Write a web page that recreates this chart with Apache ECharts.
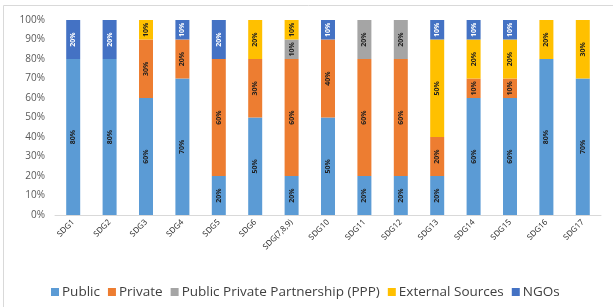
<!DOCTYPE html>
<html>
<head>
<meta charset="utf-8">
<script src="https://cdn.jsdelivr.net/npm/echarts@6/dist/echarts.min.js"></script>
<style>
  html, body { margin: 0; padding: 0; background: #fff; }
  #main { width: 613px; height: 307px; }
</style>
</head>
<body>
<div id="main"></div>
<script>
// categories and values (percent)
const categories = ['SDG1', 'SDG2', 'SDG3', 'SDG4', 'SDG5', 'SDG6', 'SDG(7,8,9)', 'SDG10', 'SDG11', 'SDG12', 'SDG13', 'SDG14', 'SDG15', 'SDG16', 'SDG17'];
const publicVals   = [80, 80, 60, 70, 20, 50, 20, 50, 20, 20, 20, 60, 60, 80, 70];
const privateVals  = [0, 0, 30, 20, 60, 30, 60, 40, 60, 60, 20, 10, 10, 0, 0];
const pppVals      = [0, 0, 0, 0, 0, 0, 10, 0, 20, 20, 0, 0, 0, 0, 0];
const externalVals = [0, 0, 10, 0, 0, 20, 10, 0, 0, 0, 50, 20, 20, 20, 30];
const ngoVals      = [20, 20, 0, 10, 20, 0, 0, 10, 0, 0, 10, 10, 10, 0, 0];
const yTicks = [0, 10, 20, 30, 40, 50, 60, 70, 80, 90, 100];

const seriesDefs = [
    { name: 'Public', data: publicVals, color: '#5B9BD5', txt: '#1f1f1f' },
    { name: 'Private', data: privateVals, color: '#ED7D31', txt: '#1f1f1f' },
    { name: 'Public Private Partnership (PPP)', data: pppVals, color: '#A5A5A5', txt: '#1f1f1f' },
    { name: 'External Sources', data: externalVals, color: '#FFC000', txt: '#1f1f1f' },
    { name: 'NGOs', data: ngoVals, color: '#4472C4', txt: '#ffffff' }
];

let myChart = echarts.init(document.getElementById('main'));

myChart.setOption({
    animation: false,
    textStyle: { fontFamily: 'Open Sans' },
    graphic: [{
        type: 'rect',
        shape: { x: 3.5, y: 5.5, width: 640, height: 320 },
        style: { fill: 'none', stroke: '#d9d9d9', lineWidth: 1 },
        silent: true
    }],
    grid: { left: 55, right: 12, top: 20, bottom: 92 },
    legend: {
        top: 280,
        left: 46,
        itemWidth: 8,
        itemHeight: 8,
        itemGap: 8,
        icon: 'rect',
        textStyle: { fontSize: 13.5, color: '#404040', padding: [0, 0, 0, -2] },
        data: seriesDefs.map(s => s.name)
    },
    xAxis: {
        type: 'category',
        data: categories,
        axisLine: { lineStyle: { color: '#d9d9d9' } },
        axisTick: { show: false },
        axisLabel: { rotate: 45, fontSize: 8, color: '#262626', margin: 6, interval: 0 }
    },
    yAxis: {
        type: 'value',
        min: 0,
        max: 100,
        interval: 10,
        splitLine: { show: false },
        axisLine: { show: false },
        axisTick: { show: false },
        axisLabel: {
            fontSize: 10,
            color: '#595959',
            margin: 10,
            formatter: v => yTicks.indexOf(v) >= 0 ? v + '%' : ''
        }
    },
    series: seriesDefs.map(s => ({
        name: s.name,
        type: 'bar',
        stack: 'total',
        barWidth: 14,
        data: s.data.map(v => v === 0 ? null : v),
        itemStyle: { color: s.color },
        label: {
            show: true,
            position: 'inside',
            rotate: 90,
            fontSize: 7,
            fontWeight: 'bold',
            color: s.txt,
            formatter: p => p.value + '%'
        }
    }))
});
</script>
</body>
</html>
